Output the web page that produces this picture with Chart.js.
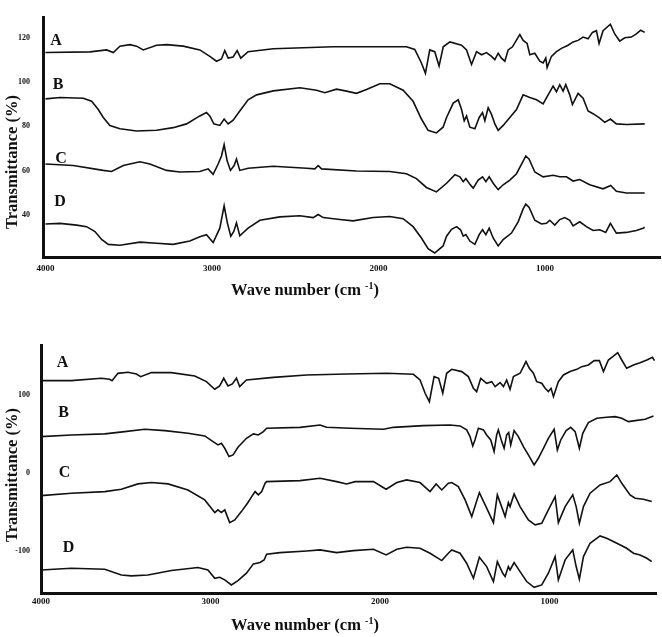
<!DOCTYPE html>
<html>
<head>
<meta charset="utf-8">
<script src="https://cdn.jsdelivr.net/npm/chart.js@4.4.1/dist/chart.umd.min.js"></script>
<style>
  html, body { margin: 0; padding: 0; background: #fff; }
  #wrap { position: relative; width: 662px; height: 637px; overflow: hidden; }
  canvas { position: absolute; left: 0; }
  .ttl {
    position: absolute;
    font-family: 'Liberation Serif', 'Times New Roman', serif;
    font-weight: bold;
    font-size: 16.5px;
    color: #111;
    white-space: nowrap;
    transform: translate(-50%, -50%);
  }
  .ttl.y { transform: translate(-50%, -50%) rotate(-90deg); }
  .ttl sup { font-size: 10px; vertical-align: 6px; line-height: 0; }
</style>
</head>
<body>
<div id="wrap">
  <canvas id="ftirTop" width="662" height="318" style="top:0"></canvas>
  <canvas id="ftirBottom" width="662" height="319" style="top:318px"></canvas>
  <div class="ttl y" style="left:12px; top:162px">Transmittance (%)</div>
  <div class="ttl" style="left:305px; top:290px">Wave number (cm <sup>-1</sup>)</div>
  <div class="ttl y" style="left:12px; top:475px">Transmittance (%)</div>
  <div class="ttl" style="left:305px; top:625px">Wave number (cm <sup>-1</sup>)</div>
</div>
<script>
/* ---------- data (wavenumber cm-1, transmittance) ---------- */
const xTicks = [4000, 3000, 2000, 1000];
const topYTicks = [40, 60, 80, 100, 120];
const bottomYTicks = [-100, 0, 100];
const letters = ['A', 'B', 'C', 'D'];

// labels A-D, placed in data coordinates
const topLetterWn = [3937, 3925, 3907, 3913];
const topLetterT = [118.7, 98.7, 65.2, 45.7];
const bottomLetterWn = [3873, 3867, 3861, 3838];
const bottomLetterT = [140, 76.4, 0, -95.5];

// upper panel
const topA = [
  [4000,113.3],[3733,113.6],[3633,114.5],[3593,113.3],[3553,116.2],[3493,116.9],[3453,116.2],
  [3413,114.5],[3333,116.6],[3273,116.9],[3173,116.2],[3073,114.5],[3013,111.6],[2973,109.4],
  [2943,110.4],[2923,114.2],[2903,110.8],[2873,111.3],[2849,114.2],[2827,110.8],[2783,113.7],
  [2632,115.0],[2272,115.9],[1832,115.9],[1782,114.7],[1742,108.6],[1718,103.9],[1692,114.5],
  [1662,113.7],[1636,107.2],[1611,115.9],[1571,118.1],[1501,116.6],[1471,114.5],[1441,107.9],
  [1411,113.7],[1381,112.3],[1351,113.3],[1321,111.6],[1301,110.1],[1281,113.0],[1261,110.8],
  [1241,109.4],[1221,114.5],[1195,115.9],[1167,119.5],[1151,121.4],[1131,118.8],[1107,117.4],
  [1091,112.3],[1061,113.0],[1031,109.4],[1011,108.6],[995,110.8],[987,106.5],[961,111.6],
  [931,113.7],[901,115.2],[861,116.6],[831,118.1],[801,118.8],[771,120.3],[741,119.5],
  [715,122.4],[691,123.2],[675,117.4],[651,123.2],[607,126.1],[581,121.7],[551,118.5],
  [521,120.0],[481,120.3],[451,121.7],[425,123.4],[401,122.4]
];
const topB = [
  [4000,92.4],[3913,93.0],[3773,92.7],[3723,91.3],[3683,87.6],[3653,84.0],[3613,80.4],
  [3553,78.9],[3453,77.9],[3333,78.2],[3233,79.4],[3153,81.1],[3073,84.7],[3033,86.2],
  [3013,84.7],[2989,81.1],[2953,80.4],[2927,83.3],[2903,81.1],[2873,82.8],[2833,86.9],
  [2783,92.0],[2732,94.2],[2632,96.0],[2472,97.4],[2372,96.3],[2322,95.2],[2252,96.8],
  [2192,95.9],[2132,94.9],[2072,96.6],[1992,99.2],[1932,99.2],[1852,96.3],[1792,91.3],
  [1742,83.3],[1702,78.2],[1652,77.0],[1612,79.6],[1591,84.0],[1551,90.5],[1521,92.0],
  [1501,87.6],[1485,82.5],[1471,84.7],[1451,79.6],[1421,78.9],[1395,84.0],[1375,86.2],
  [1361,82.5],[1341,88.4],[1321,85.4],[1301,81.1],[1281,78.2],[1251,80.4],[1211,84.0],
  [1171,87.6],[1131,94.2],[1091,93.0],[1051,92.0],[1011,90.1],[981,94.2],[951,98.2],
  [931,95.6],[911,98.8],[891,95.9],[875,98.8],[851,94.2],[835,89.8],[801,94.9],[771,92.7],
  [741,86.9],[711,85.7],[671,83.7],[641,81.8],[607,83.3],[571,81.1],[511,80.8],[401,81.1]
];
const topC = [
  [4000,63.0],[3833,62.3],[3653,60.1],[3603,59.6],[3533,62.3],[3433,64.0],[3373,63.0],
  [3273,60.1],[3193,59.4],[3073,59.6],[3023,60.8],[2993,58.3],[2963,63.0],[2943,66.6],
  [2927,71.7],[2909,64.4],[2889,60.1],[2867,62.3],[2853,65.2],[2833,60.1],[2783,61.1],
  [2632,62.0],[2432,61.1],[2382,60.8],[2362,62.3],[2342,60.8],[2132,59.8],[1932,59.6],
  [1832,58.6],[1772,56.4],[1712,52.4],[1652,50.4],[1591,54.3],[1541,58.2],[1511,57.2],
  [1491,55.0],[1475,56.4],[1451,53.8],[1431,52.1],[1401,55.7],[1375,57.2],[1355,55.0],
  [1335,57.2],[1311,54.3],[1281,51.4],[1251,53.6],[1211,55.7],[1171,58.6],[1135,63.7],
  [1115,66.6],[1095,65.2],[1061,59.4],[1011,57.2],[951,57.9],[911,57.2],[871,57.2],
  [831,55.3],[791,56.0],[731,53.6],[651,51.8],[605,53.3],[571,50.7],[511,49.9],[401,49.9]
];
const topD = [
  [4000,35.9],[3913,36.2],[3813,35.4],[3753,34.7],[3703,32.5],[3663,28.9],[3623,26.7],
  [3553,26.3],[3433,27.7],[3333,27.2],[3233,26.7],[3133,28.2],[3073,30.1],[3033,31.1],
  [2993,27.5],[2953,34.0],[2927,44.1],[2907,36.2],[2887,30.4],[2869,32.5],[2853,36.4],
  [2833,30.6],[2783,34.0],[2712,37.6],[2592,39.1],[2472,39.6],[2392,38.8],[2362,40.2],
  [2332,38.8],[2232,37.9],[2152,37.3],[2032,38.8],[1932,39.3],[1852,38.3],[1792,34.7],
  [1742,29.6],[1702,24.8],[1662,22.8],[1612,26.0],[1591,30.4],[1561,33.5],[1531,34.7],
  [1507,33.3],[1491,30.4],[1475,31.1],[1451,28.2],[1421,26.7],[1395,31.1],[1375,33.3],
  [1355,31.1],[1335,34.0],[1311,29.6],[1281,26.0],[1251,28.9],[1201,31.8],[1161,36.9],
  [1131,42.7],[1115,44.9],[1095,43.4],[1061,37.6],[1021,35.9],[991,36.2],[971,37.6],
  [941,35.4],[911,37.9],[881,38.8],[851,37.6],[831,35.0],[791,36.9],[751,34.7],[711,33.0],
  [671,33.3],[635,32.1],[607,36.2],[571,31.8],[511,32.1],[451,33.0],[411,34.0],[401,34.4]
];

// lower panel
const bottomA = [
  [4000,117.6],[3821,117.6],[3644,120.6],[3595,119.3],[3581,117.6],[3546,126.9],[3487,128.2],
  [3437,126.1],[3412,122.7],[3349,127.8],[3231,127.8],[3093,123.5],[3024,116.3],[2975,106.6],
  [2946,110.8],[2922,120.6],[2897,110.8],[2871,113.4],[2847,120.6],[2828,110.0],[2788,118.4],
  [2629,121.8],[2433,124.8],[2197,126.1],[1961,127.0],[1803,125.7],[1764,118.4],[1734,101.5],
  [1709,90.8],[1681,122.7],[1654,120.6],[1630,101.5],[1607,127.0],[1577,132.0],[1518,129.1],
  [1479,122.7],[1449,107.8],[1430,103.6],[1406,120.6],[1371,114.2],[1341,116.3],[1321,110.0],
  [1292,115.1],[1272,110.0],[1253,118.4],[1233,106.6],[1213,122.7],[1174,127.0],[1154,135.4],
  [1139,141.8],[1119,133.3],[1095,127.0],[1076,116.3],[1046,114.2],[1026,107.8],[1007,103.6],
  [991,107.8],[977,97.2],[948,116.3],[918,124.8],[879,129.1],[839,132.0],[810,135.4],
  [771,137.6],[737,143.1],[706,143.1],[682,129.1],[653,143.9],[627,148.2],[598,153.3],
  [574,143.9],[545,133.3],[505,137.6],[466,140.5],[426,143.9],[393,147.3],[381,143.1]
];
const bottomB = [
  [4000,46.3],[3821,48.4],[3624,49.7],[3506,52.6],[3388,55.6],[3270,53.9],[3133,50.5],
  [3034,47.1],[2985,39.9],[2956,35.7],[2936,37.8],[2916,31.4],[2891,20.8],[2867,22.9],
  [2838,32.7],[2788,44.1],[2747,49.7],[2718,48.4],[2688,52.6],[2669,56.9],[2472,58.1],
  [2354,61.1],[2315,58.1],[2177,56.9],[1980,55.6],[1921,58.1],[1744,60.3],[1587,61.1],
  [1528,59.9],[1489,54.8],[1469,46.3],[1453,34.4],[1440,42.0],[1420,56.9],[1390,54.8],
  [1371,48.4],[1347,42.0],[1327,27.2],[1312,48.4],[1302,54.8],[1282,39.9],[1268,31.4],
  [1253,48.4],[1241,51.4],[1229,35.7],[1209,53.9],[1184,46.3],[1154,33.5],[1125,22.9],
  [1091,10.2],[1066,18.7],[1036,31.4],[1007,44.1],[973,55.6],[954,29.3],[934,42.0],
  [902,53.9],[875,58.1],[849,52.6],[824,31.4],[804,50.5],[771,64.1],[721,69.6],[663,70.9],
  [613,71.7],[574,69.6],[535,65.4],[495,66.6],[436,68.4],[387,72.6]
];
const bottomC = [
  [4000,-28.9],[3821,-25.9],[3624,-23.8],[3526,-20.8],[3428,-14.0],[3349,-12.3],[3251,-14.0],
  [3133,-21.7],[3034,-34.4],[2995,-45.0],[2975,-50.5],[2956,-47.1],[2936,-50.5],[2916,-47.1],
  [2887,-63.3],[2857,-59.9],[2818,-49.3],[2782,-38.6],[2757,-30.2],[2737,-23.8],[2718,-28.0],
  [2698,-23.8],[2678,-13.2],[2669,-11.1],[2472,-9.8],[2354,-6.8],[2256,-11.1],[2197,-14.0],
  [2147,-11.1],[2039,-11.1],[1964,-20.8],[1901,-12.3],[1843,-8.9],[1764,-12.3],[1705,-23.8],
  [1669,-14.0],[1636,-21.7],[1597,-13.2],[1577,-12.3],[1538,-17.4],[1498,-34.4],[1459,-55.6],
  [1414,-25.1],[1375,-42.9],[1331,-63.3],[1308,-28.0],[1276,-47.1],[1262,-55.6],[1243,-37.8],
  [1233,-42.9],[1209,-26.8],[1174,-42.9],[1125,-59.9],[1085,-66.2],[1046,-64.1],[1007,-47.1],
  [967,-30.2],[948,-63.3],[908,-42.9],[863,-28.0],[843,-42.9],[824,-64.1],[800,-42.9],
  [761,-25.9],[702,-15.3],[643,-11.1],[603,-2.6],[574,-13.2],[525,-28.0],[495,-32.3],
  [446,-33.6],[397,-36.5]
];
const bottomD = [
  [4000,-123.6],[3821,-121.5],[3624,-122.7],[3526,-130.0],[3467,-131.2],[3369,-130.0],
  [3231,-124.4],[3074,-120.6],[3015,-123.6],[2975,-134.2],[2946,-132.9],[2916,-136.3],
  [2877,-142.7],[2838,-137.2],[2788,-127.8],[2747,-115.9],[2708,-114.2],[2684,-110.9],
  [2669,-103.6],[2590,-101.5],[2433,-99.4],[2354,-98.1],[2256,-101.5],[2157,-99.0],
  [2039,-97.2],[1964,-104.5],[1901,-97.2],[1843,-94.7],[1764,-96.0],[1705,-102.3],
  [1636,-111.7],[1597,-102.3],[1577,-98.1],[1528,-102.3],[1489,-115.1],[1449,-134.2],
  [1414,-107.4],[1371,-119.3],[1331,-138.4],[1308,-113.0],[1276,-127.8],[1262,-132.1],
  [1243,-119.3],[1233,-123.6],[1209,-114.2],[1174,-125.7],[1135,-138.4],[1091,-145.7],
  [1046,-142.7],[1007,-127.8],[967,-106.6],[948,-136.3],[908,-110.8],[863,-98.1],
  [843,-119.3],[824,-135.5],[800,-106.6],[761,-89.6],[702,-80.3],[663,-83.2],[603,-89.6],
  [545,-96.0],[505,-102.3],[466,-104.5],[426,-108.7],[397,-113.0]
];

/* ---------- helpers ---------- */
const SERIF = "'Liberation Serif', 'Times New Roman', serif";
const INK = '#111';

function toXY(pairs) {
  return pairs.map(p => ({ x: p[0], y: p[1] }));
}

function spectrum(pairs) {
  return {
    data: toXY(pairs),
    borderColor: INK,
    borderWidth: 1.6,
    pointRadius: 0,
    tension: 0,
    fill: false
  };
}

// draws the A-D tags next to each trace
const letterTags = {
  id: 'letterTags',
  afterDatasetsDraw(chart, args, opts) {
    const { ctx, scales: { x, y } } = chart;
    ctx.save();
    ctx.fillStyle = INK;
    ctx.font = 'bold 16px ' + SERIF;
    ctx.textAlign = 'center';
    ctx.textBaseline = 'middle';
    opts.text.forEach((t, i) => {
      ctx.fillText(t, x.getPixelForValue(opts.wn[i]), y.getPixelForValue(opts.t[i]));
    });
    ctx.restore();
  }
};

function makeChart(id, cfg) {
  return new Chart(document.getElementById(id), {
    type: 'line',
    data: { datasets: cfg.series.map(spectrum) },
    options: {
      responsive: false,
      animation: false,
      events: [],
      layout: { padding: cfg.padding },
      plugins: {
        legend: { display: false },
        tooltip: { enabled: false },
        letterTags: { text: letters, wn: cfg.letterWn, t: cfg.letterT }
      },
      scales: {
        x: {
          type: 'linear',
          reverse: true,
          min: cfg.xMin,
          max: cfg.xMax,
          grid: { display: false, drawTicks: false },
          border: { display: true, color: INK, width: 3 },
          ticks: {
            color: INK,
            padding: cfg.xTickPad,
            maxRotation: 0,
            font: { family: SERIF, weight: 'bold', size: 9 },
            callback: v => String(v)
          },
          afterBuildTicks: s => { s.ticks = xTicks.map(v => ({ value: v })); },
          afterFit: s => { s.height = cfg.xHeight; }
        },
        y: {
          type: 'linear',
          min: cfg.yMin,
          max: cfg.yMax,
          grid: { display: false, drawTicks: false },
          border: { display: true, color: INK, width: 3 },
          ticks: {
            color: INK,
            padding: cfg.yTickPad,
            font: { family: SERIF, weight: 'bold', size: 8 },
            callback: v => String(v)
          },
          afterBuildTicks: s => { s.ticks = cfg.yTicks.map(v => ({ value: v })); },
          afterFit: s => { s.width = cfg.yWidth; }
        }
      }
    },
    plugins: [letterTags]
  });
}

/* ---------- charts ---------- */
makeChart('ftirTop', {
  series: [topA, topB, topC, topD],
  letterWn: topLetterWn, letterT: topLetterT,
  padding: { left: 0, top: 8, right: 2, bottom: 0 },
  xMin: 309, xMax: 4015, xHeight: 61, xTickPad: 6,
  yMin: 21, yMax: 129, yWidth: 43, yTickPad: 13, yTicks: topYTicks
});

makeChart('ftirBottom', {
  series: [bottomA, bottomB, bottomC, bottomD],
  letterWn: bottomLetterWn, letterT: bottomLetterT,
  padding: { left: 0, top: 27, right: 6, bottom: 0 },
  xMin: 372, xMax: 4000, xHeight: 44, xTickPad: 3,
  yMin: -153, yMax: 163, yWidth: 41, yTickPad: 11, yTicks: bottomYTicks
});
</script>
</body>
</html>
